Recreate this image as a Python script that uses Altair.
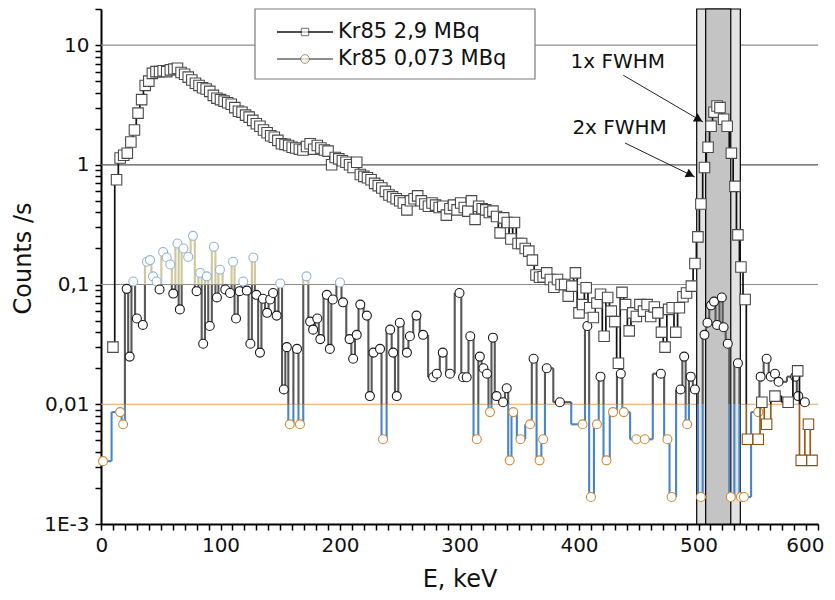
import altair as alt
import pandas as pd

# ---------------- data ----------------
# Kr85 2,9 MBq  (squares)
e1 = [10, 13, 16, 19, 22, 25, 28, 31, 34, 37, 40, 43, 46, 49, 52, 55, 58, 61, 64, 67,
      70, 73, 76, 79, 82, 85, 88, 91, 94, 97, 100, 103, 106, 109, 112, 115, 118, 121, 124, 127,
      130, 133, 136, 139, 142, 145, 148, 151, 154, 157, 160, 163, 166, 169, 172, 175, 178, 181, 184, 187,
      190, 193, 196, 199, 202, 205, 208, 211, 214, 217, 220, 223, 226, 229, 232, 235, 238, 241, 244, 247,
      250, 253, 256, 259, 262, 265, 268, 271, 274, 277, 280, 283, 286, 289, 292, 295, 298, 301, 304, 307,
      310, 313, 316, 319, 322, 325, 328, 331, 334, 337, 340, 343, 346, 349, 352, 355, 358, 361, 364, 367,
      370, 373, 376, 379, 382, 385, 388, 391, 394, 397, 400, 403, 406, 409, 412, 415, 418, 421, 424, 427,
      430, 433, 436, 439, 442, 445, 448, 451, 454, 457, 460, 463, 466, 469, 472, 475, 478, 481, 484, 487,
      490, 494, 497, 499.5, 502, 505, 508, 510.5, 513, 515.5, 518, 521, 524, 527.5, 530.5, 533, 535.5, 539,
      541, 550, 553, 557, 564, 575, 583, 586, 592, 595]
c1 = [0.030, 0.75, 1.14, 1.2, 1.25, 1.55, 1.95, 2.7, 3.5, 4.6, 5.0, 5.8, 6.0, 6.0, 6.1, 6.0, 6.2, 6.3, 6.4, 5.9,
      5.7, 5.4, 5.1, 4.8, 4.6, 4.4, 4.3, 4.1, 3.8, 3.6, 3.5, 3.4, 3.3, 3.2, 3.0, 2.8, 2.75, 2.6, 2.5, 2.35,
      2.2, 2.1, 1.95, 1.85, 1.75, 1.7, 1.6, 1.5, 1.48, 1.45, 1.4, 1.38, 1.35, 1.33, 1.42, 1.5, 1.35, 1.45, 1.38, 1.33,
      1.3, 1.0, 1.15, 1.12, 1.08, 1.05, 1.0, 0.95, 1.05, 0.83, 0.8, 0.78, 0.75, 0.7, 0.67, 0.64, 0.6, 0.56, 0.54, 0.52,
      0.5, 0.48, 0.42, 0.5, 0.52, 0.55, 0.5, 0.47, 0.45, 0.48, 0.46, 0.44, 0.45, 0.38, 0.43, 0.46, 0.42, 0.48, 0.44, 0.41,
      0.5, 0.35, 0.45, 0.43, 0.42, 0.4, 0.41, 0.37, 0.27, 0.36, 0.33, 0.24, 0.33, 0.22, 0.22, 0.2, 0.19, 0.16, 0.12, 0.115,
      0.116, 0.125, 0.11, 0.095, 0.11, 0.1, 0.1, 0.08, 0.097, 0.125, 0.058, 0.068, 0.094, 0.064, 0.053, 0.07, 0.083, 0.037, 0.078, 0.06,
      0.049, 0.022, 0.086, 0.068, 0.041, 0.058, 0.054, 0.068, 0.06, 0.068, 0.054, 0.065, 0.058, 0.04, 0.03, 0.062, 0.064, 0.04, 0.064, 0.079,
      0.085, 0.097, 0.15, 0.25, 0.47, 0.95, 1.4, 2.1, 2.75, 3.1, 3.0, 2.4, 2.1, 1.25, 0.66, 0.26, 0.14, 0.075,
      0.0051, 0.0051, 0.0104, 0.0068, 0.0117, 0.0104, 0.019, 0.0034, 0.0068, 0.0034]

# Kr85 0,073 MBq  (circles)
e2 = [1.7, 16, 18.5, 21.5, 24, 27, 30, 35, 38.5, 41, 43.5, 46.5, 49, 52, 55, 58, 60.5, 64, 66, 69,
      73, 77, 80, 83, 85.5, 88.5, 91, 94.5, 97, 99.5, 104, 108, 110.5, 113, 116, 119, 122, 125, 127.5, 130,
      133, 135.5, 139, 141.5, 144, 147, 150, 153, 155.5, 158, 164, 166.5, 172, 175, 177.5, 181, 183.5, 189, 191.5, 194,
      200, 202.5, 208, 211, 214, 217, 222.5, 225, 228, 233.5, 236, 242, 244.5, 247.5, 250, 256, 258.5, 264, 269.5, 278,
      281, 286, 292, 300, 303, 306, 309, 314.5, 317, 320, 323, 325.5, 328, 331, 336.5, 339.5, 342, 345, 351, 359,
      362, 367, 370, 373, 384, 403, 407, 410, 415, 418, 423, 428.5, 435, 437.5, 448, 455, 468.5, 474, 477.5, 485,
      488, 490.5, 493.5, 497, 502, 505, 507.5, 510.5, 513, 515.5, 519.5, 521, 524.5, 527, 533, 535.5, 538, 550, 552, 557,
      560.5, 564, 567, 581, 583.5, 589]
c2 = [0.00335, 0.0086, 0.0068, 0.092, 0.025, 0.106, 0.052, 0.046, 0.155, 0.16, 0.117, 0.106, 0.091, 0.187, 0.168, 0.147, 0.084, 0.22, 0.062, 0.2,
      0.17, 0.255, 0.088, 0.125, 0.032, 0.117, 0.045, 0.207, 0.078, 0.133, 0.091, 0.085, 0.155, 0.052, 0.088, 0.106, 0.089, 0.032, 0.168, 0.082,
      0.027, 0.076, 0.058, 0.075, 0.085, 0.055, 0.102, 0.0133, 0.030, 0.0068, 0.029, 0.0068, 0.117, 0.049, 0.042, 0.052, 0.035, 0.082, 0.029, 0.075,
      0.104, 0.071, 0.035, 0.024, 0.038, 0.068, 0.055, 0.0117, 0.027, 0.029, 0.0051, 0.042, 0.027, 0.0117, 0.048, 0.027, 0.037, 0.055, 0.038, 0.0168,
      0.018, 0.027, 0.018, 0.085, 0.0168, 0.0168, 0.037, 0.0051, 0.025, 0.020, 0.018, 0.0086, 0.036, 0.0117, 0.0104, 0.0136, 0.0034, 0.0086, 0.0051, 0.0068,
      0.024, 0.0034, 0.0051, 0.020, 0.0104, 0.0068, 0.045, 0.00168, 0.0068, 0.017, 0.0034, 0.0086, 0.018, 0.0086, 0.0051, 0.0051, 0.018, 0.0051, 0.00168, 0.0133,
      0.025, 0.0068, 0.017, 0.0133, 0.00168, 0.038, 0.048, 0.067, 0.072, 0.046, 0.078, 0.044, 0.032, 0.00168, 0.022, 0.00168, 0.00168, 0.0086, 0.017, 0.024,
      0.017, 0.018, 0.0154, 0.017, 0.0117, 0.0104]

series_names = ["Kr85 2,9 MBq", "Kr85 0,073 MBq"]
band_2x = [498.5, 535.0]
band_1x = [506.0, 527.0]
grid_levels = [10, 1, 0.1, 0.01]
x_major = [0, 100, 200, 300, 400, 500, 600]
x_minor = [v for v in range(10, 600, 10) if v % 100 != 0]
y_major = [0.001, 0.01, 0.1, 1, 10]
y_minor = [0.002, 0.003, 0.004, 0.005, 0.006, 0.007, 0.008, 0.009,
           0.02, 0.03, 0.04, 0.05, 0.06, 0.07, 0.08, 0.09,
           0.2, 0.3, 0.4, 0.5, 0.6, 0.7, 0.8, 0.9,
           2, 3, 4, 5, 6, 7, 8, 9, 20]

FONT = "DejaVu Sans"
W, H = 717, 515


# ---------------- derived step segments (centre steps) ----------------
def zone_of(v, breaks, names):
    for b, nm in zip(breaks, names):
        if v > b:
            return nm
    return names[-1]


def step_segments(xs, ys, breaks, names, tag):
    n = len(xs)
    mids = [(xs[i] + xs[i + 1]) / 2 for i in range(n - 1)]
    rows = []
    for i in range(n):
        xl = xs[0] if i == 0 else mids[i - 1]
        xr = xs[-1] if i == n - 1 else mids[i]
        rows.append(dict(x=xl, x2=xr, y=ys[i], y2=ys[i], zone=tag + zone_of(ys[i], breaks, names)))
    for i in range(n - 1):
        lo, hi = sorted([ys[i], ys[i + 1]])
        pts = [lo] + [b for b in sorted(breaks) if lo < b < hi] + [hi]
        for a, b in zip(pts[:-1], pts[1:]):
            gm = (a * b) ** 0.5
            rows.append(dict(x=mids[i], x2=mids[i], y=a, y2=b, zone=tag + zone_of(gm, breaks, names)))
    return rows


seg1 = pd.DataFrame(step_segments(e1, c1, [0.01], ["hi", "lo"], "s1"))
seg2 = pd.DataFrame(step_segments(e2, c2, [0.1, 0.01], ["hi", "mid", "lo"], "s2"))
pts1 = pd.DataFrame({"x": e1, "y": c1, "zone": ["p1" + zone_of(v, [0.01], ["hi", "lo"]) for v in c1]})
pts2 = pd.DataFrame({"x": e2, "y": c2,
                     "zone": ["p2" + zone_of(v, [0.1, 0.01], ["hi", "mid", "lo"]) for v in c2]})

xs = alt.Scale(domain=[0, 600], nice=False, zero=False)
ys = alt.Scale(type="log", domain=[0.001, 20], nice=False)

col_scale = alt.Scale(
    domain=["g10", "g1", "g01", "g001", "s1hi", "s1lo", "s2hi", "s2mid", "s2lo"],
    range=["#8c8c8c", "#555555", "#8c8c8c", "#e8a060", "#111111", "#9a5c14", "#cdc79a", "#585858", "#4a86c4"])
stroke_scale = alt.Scale(domain=["p1hi", "p1lo", "p2hi", "p2mid", "p2lo"],
                         range=["#4a4a4a", "#8a5010", "#8fb6d6", "#1a1a1a", "#d08a3a"])

# one axis per channel carrying both major (labelled) and minor (unlabelled) ticks
x_axis = alt.Axis(values=sorted(x_major + x_minor), format="d", title="E, keV", grid=False,
                  labelExpr="datum.value % 100 == 0 ? datum.label : ''",
                  labelOverlap=False, labelFlush=True, labelFlushOffset=6,
                  domainColor="black", domainWidth=2, tickColor="black", tickWidth=1.5, tickSize=6,
                  labelFont=FONT, labelFontSize=20, labelColor="#111", labelPadding=5,
                  titleFont=FONT, titleFontSize=24, titleFontWeight="normal", titleColor="#111",
                  titleBaseline="middle", titleY=55, orient="bottom")
y_axis = alt.Axis(values=sorted(y_major + y_minor), grid=False, title="Counts /s",
                  labelFlush=False, labelOverlap=False,
                  labelExpr="abs(log(datum.value) / LN10 - round(log(datum.value) / LN10)) > 0.01 ? '' : "
                            "(datum.value > 5 ? '10' : datum.value > 0.5 ? '1' : datum.value > 0.05 ? '0,1' : "
                            "datum.value > 0.005 ? '0,01' : '1E-3')",
                  domainColor="black", domainWidth=2, tickColor="black", tickWidth=1.5, tickSize=6,
                  labelFont=FONT, labelFontSize=20, labelColor="#111", labelPadding=6,
                  titleFont=FONT, titleFontSize=24, titleFontWeight="normal", titleColor="#111",
                  titleBaseline="middle", titleX=-78, titleY=249, titleAngle=-90, orient="left")


def X(field, **kw):
    return alt.X(field, scale=xs, axis=None, **kw)


def Y(field, **kw):
    return alt.Y(field, scale=ys, axis=None, **kw)


# grid lines
grid_df = pd.DataFrame({"y": grid_levels, "lvl": ["g10", "g1", "g01", "g001"]})
grid = alt.Chart(grid_df).mark_rule(strokeWidth=1.2).encode(
    x=alt.value(0), x2=alt.value(W),
    y=Y("y:Q"),
    color=alt.Color("lvl:N", legend=None, scale=col_scale),
)

band_df = pd.DataFrame({"a": [band_2x[0], band_1x[0]], "b": [band_2x[1], band_1x[1]],
                        "kind": ["2x", "1x"]})
bands = alt.Chart(band_df).mark_rect(stroke="black", strokeWidth=1.2).encode(
    x=X("a:Q"), x2="b:Q",
    y=alt.value(0), y2=alt.value(H),
    fill=alt.Fill("kind:N", legend=None,
                  scale=alt.Scale(domain=["2x", "1x"], range=["#e2e2e2", "#c4c4c4"])),
)


def step_lines(df, width):
    return alt.Chart(df).mark_rule(strokeWidth=width).encode(
        x=X("x:Q"), x2="x2:Q",
        y=Y("y:Q"), y2="y2:Q",
        color=alt.Color("zone:N", scale=col_scale, legend=None),
    )


def markers(df, shape, size):
    return alt.Chart(df).mark_point(shape=shape, size=size, filled=True, fill="white",
                                    fillOpacity=1, strokeWidth=1.1).encode(
        x=X("x:Q"), y=Y("y:Q"),
        stroke=alt.Stroke("zone:N", legend=None, scale=stroke_scale),
    )


lines2 = step_lines(seg2, 2.1)
lines1 = step_lines(seg1, 1.7)
circ = markers(pts2, "circle", 80)
sq = markers(pts1, "square", 110)

# annotations (text + arrows) in data coordinates
ann_df = pd.DataFrame({"x": [432.5, 434.0], "y": [7.2, 2.03], "t": ["1x FWHM", "2x FWHM"]})
ann_text = alt.Chart(ann_df).mark_text(font=FONT, fontSize=20, color="#111").encode(
    x=X("x:Q"), y=Y("y:Q"), text="t:N")
arr_df = pd.DataFrame({"x": [437, 438.5], "y": [5.6, 1.52], "x2": [503.8, 497.0], "y2": [2.28, 0.79],
                       "hx": [500.2, 493.2], "hy": [2.39, 0.825], "ang": [30, 26]})
arr_line = alt.Chart(arr_df).mark_rule(color="#222", strokeWidth=1).encode(
    x=X("x:Q"), x2="x2:Q", y=Y("y:Q"), y2="y2:Q")
arr_head = alt.Chart(arr_df).mark_point(shape="triangle-right", filled=True, color="#111",
                                        size=90, opacity=1).encode(
    x=X("hx:Q"), y=Y("hy:Q"), angle=alt.Angle("ang:Q", scale=None))

# legend (drawn as a framed box inside the plot area)
LX0, LX1, LY0, LY1 = 154, 434, 0, 70
ROW = [23, 50]
k = pd.DataFrame({"k": [0]})
leg_box = alt.Chart(k).mark_rect(fill="white", stroke="#7a7a7a", strokeWidth=1.2).encode(
    x=alt.value(LX0), x2=alt.value(LX1), y=alt.value(LY0), y2=alt.value(LY1))
leg_l1 = alt.Chart(k).mark_rule(color="#111", strokeWidth=1.6).encode(
    x=alt.value(176), x2=alt.value(232), y=alt.value(ROW[0]))
leg_l2 = alt.Chart(k).mark_rule(color="#6a6a6a", strokeWidth=1.6).encode(
    x=alt.value(176), x2=alt.value(232), y=alt.value(ROW[1]))
leg_s1 = alt.Chart(k).mark_point(shape="square", size=55, filled=True, fill="white",
                                 stroke="#333", strokeWidth=1).encode(
    x=alt.value(204), y=alt.value(ROW[0]))
leg_s2 = alt.Chart(k).mark_point(shape="circle", size=75, filled=True, fill="white",
                                 stroke="#8a5a20", strokeWidth=1).encode(
    x=alt.value(204), y=alt.value(ROW[1]))
leg_t1 = alt.Chart(k).mark_text(font=FONT, fontSize=21, align="left", baseline="middle",
                                color="#111", text=series_names[0]).encode(
    x=alt.value(237), y=alt.value(ROW[0]))
leg_t2 = alt.Chart(k).mark_text(font=FONT, fontSize=21, align="left", baseline="middle",
                                color="#111", text=series_names[1]).encode(
    x=alt.value(237), y=alt.value(ROW[1]))

main = alt.layer(grid, bands, lines2, circ, lines1, sq, arr_line, arr_head, ann_text,
                 leg_box, leg_l1, leg_l2, leg_s1, leg_s2, leg_t1, leg_t2)

# axis carrier
major = alt.Chart(pd.DataFrame({"mx": [0], "my": [1]})).mark_point(opacity=0).encode(
    x=alt.X("mx:Q", scale=xs, axis=x_axis), y=alt.Y("my:Q", scale=ys, axis=y_axis))

chart = alt.layer(main, major).resolve_axis(x="independent", y="independent").properties(
    width=W, height=H,
    autosize=alt.AutoSizeParams(type="none"),
    padding={"left": 101, "top": 9, "right": 17, "bottom": 76},
    background="white",
).configure_view(stroke=None)

chart.save("out.html", embed_options={"renderer": "svg", "actions": False})
